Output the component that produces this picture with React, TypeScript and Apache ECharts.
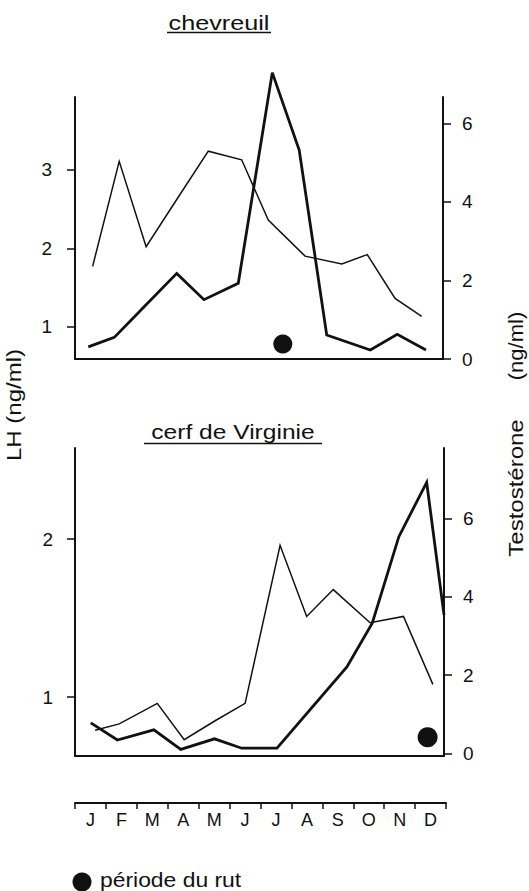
import React, { useEffect, useRef } from "react";
import * as echarts from "echarts";

// ---- data ----
const MONTHS = ["J", "F", "M", "A", "M", "J", "J", "A", "S", "O", "N", "D"];

// chevreuil (roe deer): x in months from 1 January
const LH_CHEV_X = [0.57, 1.43, 2.3, 3.3, 4.31, 5.39, 6.25, 7.44, 8.63, 9.45, 10.35, 11.21];
const LH_CHEV = [1.77, 3.11, 2.02, 2.63, 3.24, 3.13, 2.36, 1.9, 1.8, 1.92, 1.36, 1.13];
const T_CHEV_X = [0.43, 1.27, 2.26, 3.29, 4.17, 5.28, 6.38, 7.25, 8.14, 9.55, 10.42, 11.35];
const T_CHEV = [0.31, 0.55, 1.35, 2.18, 1.51, 1.93, 7.29, 5.32, 0.61, 0.23, 0.63, 0.23];
const RUT_CHEV = [6.72, 0.38];

// cerf de Virginie (white-tailed deer)
const LH_CERF_X = [0.65, 1.43, 2.66, 3.53, 4.53, 5.5, 6.63, 7.49, 8.35, 9.54, 10.62, 11.57];
const LH_CERF = [0.79, 0.83, 0.96, 0.73, 0.85, 0.96, 1.96, 1.51, 1.68, 1.47, 1.51, 1.08];
const T_CERF_X = [0.51, 1.37, 2.55, 3.42, 4.51, 5.39, 6.53, 8.79, 9.61, 10.47, 11.37, 11.93];
const T_CERF = [0.78, 0.34, 0.6, 0.1, 0.37, 0.13, 0.13, 2.21, 3.33, 5.54, 6.93, 3.54];
const RUT_CERF = [11.4, 0.41];

// tick labels
const LH_CHEV_TICKS = [1, 2, 3];
const T_CHEV_TICKS = [0, 2, 4, 6];
const LH_CERF_TICKS = [1, 2];
const T_CERF_TICKS = [0, 2, 4, 6];

const INK = "#111";
const FONT = "Liberation Sans, Arial, Helvetica, sans-serif";

const pairs = (xs: number[], ys: number[]) => xs.map((x, i) => [x, ys[i]]);

function yAxis(grid: number, pos: "left" | "right", min: number, max: number, ticks: number[], margin: number) {
  return {
    type: "value",
    gridIndex: grid,
    position: pos,
    min,
    max,
    axisLine: { show: true, lineStyle: { color: INK, width: 2 } },
    axisTick: { show: true, customValues: ticks, length: 8, lineStyle: { color: INK, width: 1.5 } },
    axisLabel: {
      show: true,
      customValues: ticks,
      margin,
      color: INK,
      fontSize: 19,
      fontFamily: FONT,
    },
    splitLine: { show: false },
  };
}

function xAxisPanel(grid: number, max: number) {
  return {
    type: "value",
    gridIndex: grid,
    min: 0,
    max,
    axisLine: { show: true, onZero: false, lineStyle: { color: INK, width: 2 } },
    axisTick: { show: false },
    axisLabel: { show: false },
    splitLine: { show: false },
  };
}

function lineSeries(name: string, xi: number, yi: number, data: number[][], width: number) {
  return {
    name,
    type: "line",
    xAxisIndex: xi,
    yAxisIndex: yi,
    data,
    symbol: "none",
    clip: false,
    lineStyle: { color: INK, width, join: "miter" },
  };
}

function label(text: string, x: number, y: number, opts: any = {}) {
  return {
    type: "text",
    x,
    y,
    rotation: opts.rotation || 0,
    scaleX: opts.scaleX || 1,
    style: {
      text,
      fontSize: opts.size || 21,
      fontFamily: FONT,
      fontWeight: "normal",
      fill: INK,
      align: opts.align || "center",
      verticalAlign: "middle",
    },
  };
}

export default function App() {
  const ref = useRef<HTMLDivElement>(null);

  useEffect(() => {
    if (!ref.current) return;
    const chart = echarts.init(ref.current, null, { renderer: "svg" });
    const option = {
      animation: false,
      backgroundColor: "#fff",
      grid: [
        { left: 75, top: 97, width: 368, height: 262 },
        { left: 75, top: 448, width: 369, height: 308 },
        { left: 75, top: 802, width: 371, height: 1 },
      ],
      xAxis: [
        xAxisPanel(0, 11.9),
        xAxisPanel(1, 11.93),
        {
          type: "category",
          gridIndex: 2,
          data: MONTHS,
          boundaryGap: true,
          axisLine: { show: true, onZero: false, lineStyle: { color: INK, width: 2 } },
          axisTick: { show: true, length: 6, lineStyle: { color: INK, width: 1.5 } },
          axisLabel: { interval: 0, margin: 8, color: INK, fontSize: 18, fontFamily: FONT },
          splitLine: { show: false },
        },
      ],
      yAxis: [
        yAxis(0, "left", 0.587, 3.932, LH_CHEV_TICKS, 23),
        yAxis(0, "right", 0, 6.67, T_CHEV_TICKS, 19),
        yAxis(1, "left", 0.627, 2.576, LH_CERF_TICKS, 22),
        yAxis(1, "right", -0.069, 7.808, T_CERF_TICKS, 19),
        { type: "value", gridIndex: 2, show: false },
      ],
      series: [
        lineSeries("LH chevreuil", 0, 0, pairs(LH_CHEV_X, LH_CHEV), 1.5),
        lineSeries("Testostérone chevreuil", 0, 1, pairs(T_CHEV_X, T_CHEV), 2.8),
        {
          name: "rut chevreuil",
          type: "scatter",
          xAxisIndex: 0,
          yAxisIndex: 1,
          data: [RUT_CHEV],
          symbol: "circle",
          symbolSize: 19,
          itemStyle: { color: INK, opacity: 1 },
        },
        lineSeries("LH cerf", 1, 2, pairs(LH_CERF_X, LH_CERF), 1.5),
        lineSeries("Testostérone cerf", 1, 3, pairs(T_CERF_X, T_CERF), 2.8),
        {
          name: "rut cerf",
          type: "scatter",
          xAxisIndex: 1,
          yAxisIndex: 3,
          data: [RUT_CERF],
          symbol: "circle",
          symbolSize: 20,
          itemStyle: { color: INK, opacity: 1 },
        },
      ],
      graphic: [
        label("chevreuil", 219, 23, { scaleX: 1.2 }),
        { type: "line", shape: { x1: 167, y1: 32.5, x2: 271, y2: 32.5 }, style: { stroke: INK, lineWidth: 1.5 } },
        label("cerf de Virginie", 233, 432, { scaleX: 1.17 }),
        { type: "line", shape: { x1: 144, y1: 443.5, x2: 322, y2: 443.5 }, style: { stroke: INK, lineWidth: 1.5 } },
        label("LH (ng/ml)", 14, 405, { rotation: Math.PI / 2, scaleX: 1.2, size: 20 }),
        label("Testostérone", 516, 488, { rotation: Math.PI / 2, scaleX: 1.2, size: 20 }),
        label("(ng/ml)", 516, 346, { rotation: Math.PI / 2, scaleX: 1.1, size: 20 }),
        { type: "circle", shape: { cx: 82, cy: 882, r: 9.5 }, style: { fill: INK } },
        label("période du rut", 100, 880, { scaleX: 1.09, align: "left" }),
      ],
    };
    chart.setOption(option as any);
    return () => chart.dispose();
  }, []);

  return (
    <div
      ref={ref}
      style={{ position: "fixed", left: 0, top: 0, width: 529, height: 891, background: "#fff" }}
    />
  );
}
